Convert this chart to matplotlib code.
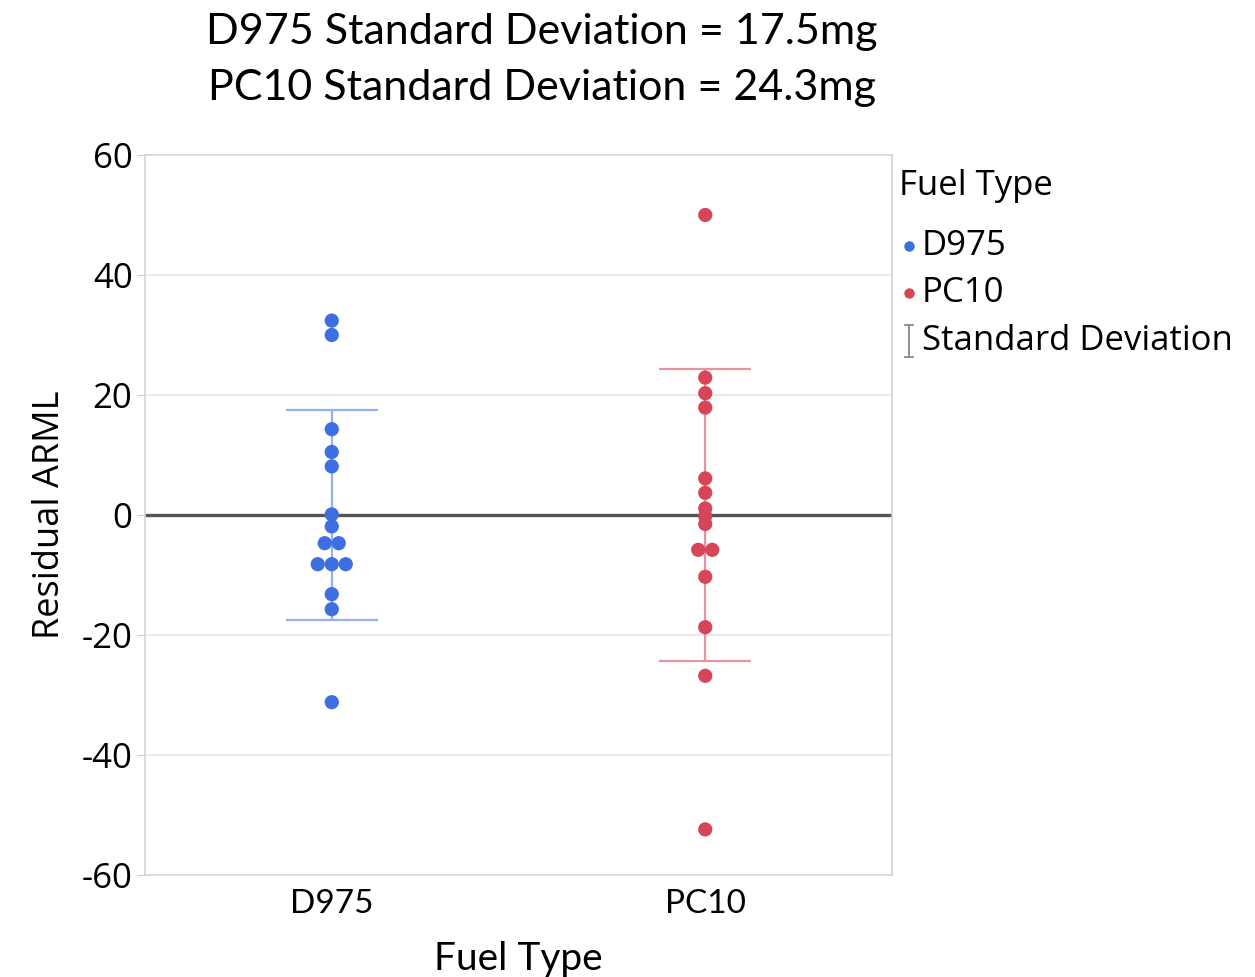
import matplotlib
matplotlib.use("Agg")
import matplotlib.pyplot as plt
from matplotlib.lines import Line2D
import numpy as np

plt.rcParams['axes.unicode_minus'] = False

# data
fuel_types = ["D975", "PC10"]
d975_resid = [32.4, 30.0, 14.3, 10.5, 8.1, 0.1, -1.9, -4.7, -4.7,
              -8.2, -8.2, -8.2, -13.2, -15.7, -31.2]
pc10_resid = [50.0, 22.9, 20.3, 17.9, 6.1, 3.7, 1.1, -0.2, -1.5,
              -5.8, -5.8, -10.3, -18.7, -26.8, -52.4]
sd_values = [17.5, 24.3]
mean_values = [0.0, 0.0]
point_colors = ["#3d6fe3", "#d64558"]
bar_colors = ["#94b2f0", "#e8939f"]

fig = plt.figure(figsize=(12.55, 9.77), dpi=100, facecolor='w')
W, H = 1255, 977
ax = fig.add_axes([145 / W, 1 - 875 / H, (892 - 145) / W, (875 - 155) / H])

sans = ["Open Sans", "DejaVu Sans"]
narrow = ["Lato", "DejaVu Sans"]

# grid + zero line
for yv in [-40, -20, 20, 40]:
    ax.axhline(yv, color="#e6e6e6", lw=1.2, zorder=0)
ax.axhline(0, color="#555555", lw=2.4, zorder=1)

spread = 0.0375  # swarm step in x units
cap = 0.123
for i, vals in enumerate([d975_resid, pc10_resid]):
    vals = np.array(vals)
    xs = np.full(len(vals), float(i))
    for v in np.unique(vals):
        idx = np.where(vals == v)[0]
        n = len(idx)
        xs[idx] = i + (np.arange(n) - (n - 1) / 2) * spread
    m, s = mean_values[i], sd_values[i]
    ax.vlines(i, m - s, m + s, color=bar_colors[i], lw=1.6, zorder=2)
    ax.hlines([m - s, m + s], i - cap, i + cap, color=bar_colors[i], lw=1.6, zorder=2)
    ax.scatter(xs, vals, s=105, color=point_colors[i], edgecolors='none', zorder=3)

ax.set_xlim(-0.5, 1.5)
ax.set_ylim(-60, 60)
ax.set_yticks([-60, -40, -20, 0, 20, 40, 60])
ax.set_xticks([0, 1])
ax.set_xticklabels(fuel_types, family=narrow, fontsize=24)
for lab in ax.get_yticklabels():
    lab.set_family(sans)
    lab.set_fontsize(25)
ax.tick_params(axis='y', length=6, color="#cccccc", pad=3)
ax.tick_params(axis='x', length=0, pad=10)
for sp in ax.spines.values():
    sp.set_color("#d4d4d4")
    sp.set_linewidth(1.2)

ax.set_ylabel("Residual ARML", family=sans, fontsize=26, labelpad=10)
ax.set_xlabel("Fuel Type", family=narrow, fontsize=28, labelpad=16)

# title lines
fig.text(542 / W, 1 - 32 / H, "D975 Standard Deviation = 17.5mg", family=narrow,
         fontsize=31, ha='center', va='center')
fig.text(542 / W, 1 - 88 / H, "PC10 Standard Deviation = 24.3mg", family=narrow,
         fontsize=31, ha='center', va='center')

# legend
fig.text(899 / W, 1 - 186 / H, "Fuel Type", family=sans, fontsize=25, va='center')
for yy, lbl, col in [(246, fuel_types[0], point_colors[0]), (293, fuel_types[1], point_colors[1])]:
    fig.add_artist(Line2D([909 / W], [1 - yy / H], marker='o', markersize=7.5,
                          color=col, markeredgecolor='none', transform=fig.transFigure))
    fig.text(922 / W, 1 - yy / H, lbl, family=sans, fontsize=25, va='center')
gy0, gy1 = 1 - 325 / H, 1 - 357 / H
gx = 909 / W
fig.add_artist(Line2D([gx, gx], [gy0, gy1], color="#888888", lw=1.3, transform=fig.transFigure))
for gy in (gy0, gy1):
    fig.add_artist(Line2D([gx - 4 / W, gx + 4 / W], [gy, gy], color="#888888", lw=1.3,
                          transform=fig.transFigure))
fig.text(922 / W, 1 - 341 / H, "Standard Deviation", family=sans, fontsize=25, va='center')

fig.savefig("out.png", dpi=100, facecolor='w')
